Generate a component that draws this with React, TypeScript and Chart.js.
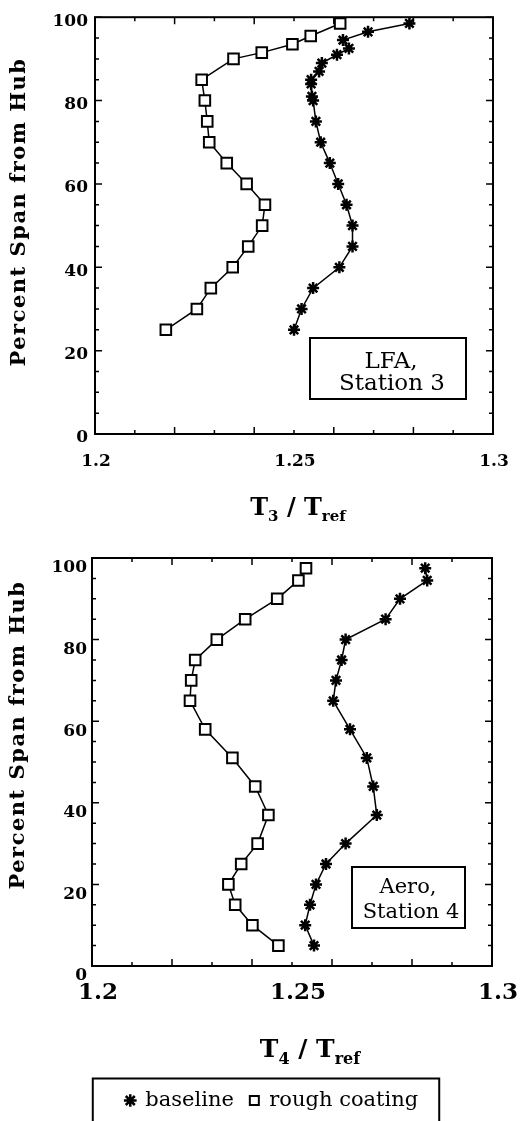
import React, { useEffect, useRef } from 'react';
import { Chart, registerables } from 'chart.js';

Chart.register(...registerables);

const FONT = "'DejaVu Serif', 'Liberation Serif', serif";

// ---------- DATA ----------
// Upper panel (LFA, Station 3)
const lfaBaselineSpan = [98.5, 96.5, 94.5, 92.5, 91, 89, 87, 85, 84, 81, 80, 75, 70, 65, 60, 55, 50, 45, 40, 35, 30, 25];
const lfaBaselineT = [1.279, 1.2686, 1.2623, 1.2638, 1.2608, 1.257, 1.2563, 1.2543, 1.2543, 1.2545, 1.2548, 1.2555, 1.2567, 1.259, 1.2611, 1.2632, 1.2647, 1.2647, 1.2614, 1.2548, 1.2519, 1.25];
const lfaRoughSpan = [98.5, 95.5, 93.5, 91.5, 90, 85, 80, 75, 70, 65, 60, 55, 50, 45, 40, 35, 30, 25];
const lfaRoughT = [1.2616, 1.2542, 1.2496, 1.2419, 1.2348, 1.2268, 1.2276, 1.2282, 1.2287, 1.2331, 1.2381, 1.2427, 1.242, 1.2385, 1.2346, 1.2291, 1.2256, 1.2178];

// Lower panel (Aero, Station 4)
const aeroBaselineSpan = [97.5, 94.5, 90, 85, 80, 75, 70, 65, 58, 51, 44, 37, 30, 25, 20, 15, 10, 5];
const aeroBaselineT = [1.2833, 1.2838, 1.277, 1.2734, 1.2634, 1.2624, 1.261, 1.2603, 1.2645, 1.2687, 1.2703, 1.2712, 1.2634, 1.2585, 1.256, 1.2545, 1.2533, 1.2555];
const aeroRoughSpan = [97.5, 94.5, 90, 85, 80, 75, 70, 65, 58, 51, 44, 37, 30, 25, 20, 15, 10, 5];
const aeroRoughT = [1.2535, 1.2516, 1.2463, 1.2383, 1.2312, 1.2258, 1.2248, 1.2245, 1.2283, 1.2351, 1.2408, 1.2441, 1.2414, 1.2373, 1.2341, 1.2358, 1.2401, 1.2466];

const seriesNames = ['baseline', 'rough coating'];

const xTickValues = [1.2, 1.25, 1.3];
const xTickLabels = ['1.2', '1.25', '1.3'];
const yTickValues = [0, 20, 40, 60, 80, 100];
const yTickLabels = ['0', '20', '40', '60', '80', '100'];

const yTitleText = 'Percent Span from Hub';
const topXTitle = [
  { text: 'T', sub: false },
  { text: '3', sub: true },
  { text: ' / ', sub: false },
  { text: 'T', sub: false },
  { text: 'ref', sub: true },
];
const bottomXTitle = [
  { text: 'T', sub: false },
  { text: '4', sub: true },
  { text: ' / ', sub: false },
  { text: 'T', sub: false },
  { text: 'ref', sub: true },
];
const topNote = ['LFA,', 'Station 3'];
const bottomNote = ['Aero,', 'Station 4'];

// ---------- HELPERS ----------
const toPoints = (t: number[], s: number[]) => t.map((x, i) => ({ x, y: s[i] }));

type Part = { text: string; sub: boolean };

interface PanelSpec {
  baselineT: number[];
  baselineSpan: number[];
  roughT: number[];
  roughSpan: number[];
  padding: { left: number; right: number; top: number; bottom: number };
  yAxisWidth: number;
  y2Width: number;
  xAxisHeight: number;
  xTickFont: number;
  xTickPad: number;
  xLabelOffset: number;
  yTickPad: number;
  yLabelOffset: number;
  yTitle: { x: number; cy: number; size: number };
  xTitle: { parts: Part[]; cx: number; baseline: number; main: number; sub: number; drop: number };
  note: { lines: string[]; rect: number[]; pos: number[][]; size: number };
  legend: boolean;
}

function makePanelPlugin(p: PanelSpec) {
  return {
    id: 'panelDecor',
    afterDraw(chart: any) {
      const { ctx, chartArea: a, scales } = chart;
      const xs = scales.x;
      const ys = scales.y;
      ctx.save();
      ctx.strokeStyle = '#000';
      ctx.fillStyle = '#000';
      // frame
      ctx.lineWidth = 2;
      ctx.strokeRect(a.left, a.top, a.right - a.left, a.bottom - a.top);
      // inward ticks
      ctx.lineWidth = 1.5;
      ctx.beginPath();
      for (let i = 0; i <= 10; i++) {
        const px = xs.getPixelForValue(xs.min + i * 0.01);
        const len = i % 2 === 0 ? 7 : 4;
        ctx.moveTo(px, a.bottom);
        ctx.lineTo(px, a.bottom - len);
        ctx.moveTo(px, a.top);
        ctx.lineTo(px, a.top + len);
      }
      for (let v = 0; v <= 100; v += 5) {
        const py = ys.getPixelForValue(v);
        const len = v % 20 === 0 ? 7 : 4;
        ctx.moveTo(a.left, py);
        ctx.lineTo(a.left + len, py);
        ctx.moveTo(a.right, py);
        ctx.lineTo(a.right - len, py);
      }
      ctx.stroke();

      // y title (rotated)
      ctx.save();
      ctx.translate(p.yTitle.x, p.yTitle.cy);
      ctx.rotate(-Math.PI / 2);
      ctx.font = `bold ${p.yTitle.size}px ${FONT}`;
      try { (ctx as any).letterSpacing = '1.5px'; } catch (e) { /* ignore */ }
      ctx.textAlign = 'center';
      ctx.textBaseline = 'middle';
      ctx.fillText(yTitleText, 0, 0);
      try { (ctx as any).letterSpacing = '0px'; } catch (e) { /* ignore */ }
      ctx.restore();

      // x title with subscripts
      const xt = p.xTitle;
      const mainFont = `bold ${xt.main}px ${FONT}`;
      const subFont = `bold ${xt.sub}px ${FONT}`;
      const widths = xt.parts.map((pt) => {
        ctx.font = pt.sub ? subFont : mainFont;
        return ctx.measureText(pt.text).width;
      });
      const total = widths.reduce((s, w) => s + w, 0);
      let x = xt.cx - total / 2;
      ctx.textAlign = 'left';
      ctx.textBaseline = 'alphabetic';
      xt.parts.forEach((pt, i) => {
        ctx.font = pt.sub ? subFont : mainFont;
        ctx.fillText(pt.text, x, xt.baseline + (pt.sub ? xt.drop : 0));
        x += widths[i];
      });

      // annotation box
      const n = p.note;
      ctx.lineWidth = 2;
      ctx.strokeRect(n.rect[0], n.rect[1], n.rect[2] - n.rect[0], n.rect[3] - n.rect[1]);
      ctx.font = `${n.size}px ${FONT}`;
      ctx.textAlign = 'center';
      n.lines.forEach((t, i) => ctx.fillText(t, n.pos[i][0], n.pos[i][1]));

      // legend frame
      if (p.legend && chart.legend && chart.legend.legendHitBoxes && chart.legend.legendHitBoxes.length) {
        const hb = chart.legend.legendHitBoxes;
        const left = Math.min(...hb.map((h: any) => h.left)) - 33;
        const right = Math.max(...hb.map((h: any) => h.left + h.width)) + 21;
        const midY = hb[0].top + hb[0].height / 2;
        const top = midY - 22;
        ctx.lineWidth = 2;
        ctx.strokeRect(left, top, right - left, chart.height + 20 - top);
      }
      ctx.restore();
    },
  };
}

function makeConfig(p: PanelSpec): any {
  const tickFontY = { family: FONT, size: 17, weight: 'bold' };
  return {
    type: 'scatter',
    data: {
      datasets: [
        {
          label: seriesNames[0],
          data: toPoints(p.baselineT, p.baselineSpan),
          showLine: true,
          borderColor: '#000',
          backgroundColor: '#000',
          borderWidth: 1.5,
          pointStyle: 'star',
          pointRadius: 6,
          pointBorderWidth: 2.5,
          pointBorderColor: '#000',
          pointBackgroundColor: '#000',
        },
        {
          label: seriesNames[1],
          data: toPoints(p.roughT, p.roughSpan),
          showLine: true,
          borderColor: '#000',
          backgroundColor: '#fff',
          borderWidth: 1.5,
          pointStyle: 'rect',
          pointRadius: 7.5,
          pointBorderWidth: 2,
          pointBorderColor: '#000',
          pointBackgroundColor: '#fff',
        },
      ],
    },
    options: {
      responsive: false,
      animation: false,
      events: [],
      layout: { padding: p.padding },
      plugins: {
        tooltip: { enabled: false },
        legend: p.legend
          ? {
              display: true,
              position: 'bottom',
              labels: {
                usePointStyle: true,
                boxWidth: 9,
                boxHeight: 9,
                padding: 16,
                color: '#000',
                font: { family: FONT, size: 21 },
              },
            }
          : { display: false },
      },
      scales: {
        x: {
          type: 'linear',
          min: 1.2,
          max: 1.3,
          afterBuildTicks: (s: any) => {
            s.ticks = xTickValues.map((v) => ({ value: v }));
          },
          afterFit: (s: any) => {
            s.height = p.xAxisHeight;
          },
          ticks: {
            callback: (_v: any, i: number) => xTickLabels[i],
            color: '#000',
            font: { family: FONT, size: p.xTickFont, weight: 'bold' },
            padding: p.xTickPad,
            labelOffset: p.xLabelOffset,
            maxRotation: 0,
            autoSkip: false,
          },
          grid: { display: false, drawTicks: false },
          border: { display: false },
        },
        y: {
          type: 'linear',
          min: 0,
          max: 100,
          afterBuildTicks: (s: any) => {
            s.ticks = yTickValues.map((v) => ({ value: v }));
          },
          afterFit: (s: any) => {
            s.width = p.yAxisWidth;
          },
          ticks: {
            callback: (_v: any, i: number) => yTickLabels[i],
            color: '#000',
            font: tickFontY,
            padding: p.yTickPad,
            labelOffset: p.yLabelOffset,
            autoSkip: false,
          },
          grid: { display: false, drawTicks: false },
          border: { display: false },
        },
        y2: {
          type: 'linear',
          position: 'right',
          display: true,
          afterFit: (s: any) => {
            s.width = p.y2Width;
          },
          ticks: { display: false },
          grid: { display: false, drawTicks: false },
          border: { display: false },
        },
      },
    },
    plugins: [makePanelPlugin(p)],
  };
}

const topSpec: PanelSpec = {
  baselineT: lfaBaselineT,
  baselineSpan: lfaBaselineSpan,
  roughT: lfaRoughT,
  roughSpan: lfaRoughSpan,
  padding: { left: 0, right: 0, top: 15, bottom: 0 },
  yAxisWidth: 95,
  y2Width: 34,
  xAxisHeight: 96,
  xTickFont: 17,
  xTickPad: 17,
  xLabelOffset: 1,
  yTickPad: 7,
  yLabelOffset: 4,
  yTitle: { x: 20, cy: 212, size: 21 },
  xTitle: { parts: topXTitle, cx: 298, baseline: 515, main: 24, sub: 15, drop: 6 },
  note: { lines: topNote, rect: [310, 338, 466, 399], pos: [[391, 368], [392, 390]], size: 23 },
  legend: false,
};

const bottomSpec: PanelSpec = {
  baselineT: aeroBaselineT,
  baselineSpan: aeroBaselineSpan,
  roughT: aeroRoughT,
  roughSpan: aeroRoughSpan,
  padding: { left: 17, right: 0, top: 28, bottom: 0 },
  yAxisWidth: 75,
  y2Width: 35,
  xAxisHeight: 108,
  xTickFont: 23,
  xTickPad: 13,
  xLabelOffset: 6,
  yTickPad: 5,
  yLabelOffset: 10,
  yTitle: { x: 19, cy: 205, size: 21 },
  xTitle: { parts: bottomXTitle, cx: 310, baseline: 527, main: 25, sub: 16, drop: 7 },
  note: { lines: bottomNote, rect: [352, 337, 465, 398], pos: [[408, 363], [411, 388]], size: 21 },
  legend: true,
};

export default function App() {
  const topRef = useRef<HTMLCanvasElement>(null);
  const bottomRef = useRef<HTMLCanvasElement>(null);

  useEffect(() => {
    Chart.defaults.font.family = FONT;
    Chart.defaults.color = '#000';
    const charts: Chart[] = [];
    if (topRef.current) charts.push(new Chart(topRef.current, makeConfig(topSpec)));
    if (bottomRef.current) charts.push(new Chart(bottomRef.current, makeConfig(bottomSpec)));
    return () => {
      charts.forEach((c) => c.destroy());
    };
  }, []);

  return (
    <div style={{ position: 'absolute', left: 0, top: 0, width: 527, height: 1121, background: '#fff', overflow: 'hidden' }}>
      <canvas ref={topRef} width={527} height={530} style={{ position: 'absolute', left: 0, top: 0, width: 527, height: 530 }} />
      <canvas ref={bottomRef} width={527} height={591} style={{ position: 'absolute', left: 0, top: 530, width: 527, height: 591 }} />
    </div>
  );
}
